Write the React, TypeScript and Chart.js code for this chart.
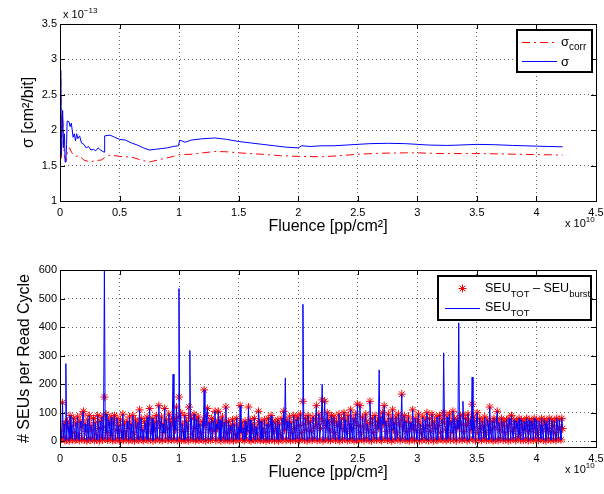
import React, { useEffect, useRef } from "react";
import { Chart, registerables } from "chart.js";

Chart.register(...registerables);

// ---------- data: top panel (cross-section in 1e-13 cm^2/bit vs fluence in 1e10 pp/cm^2) ----------
const sigmaFluence = [
  0, 0.006, 0.012, 0.022, 0.03, 0.037, 0.043, 0.05, 0.055, 0.06, 0.075, 0.085, 0.095, 0.11, 0.12, 0.13,
  0.14, 0.15, 0.165, 0.18, 0.2, 0.22, 0.24, 0.26, 0.28, 0.3, 0.32, 0.34, 0.37, 0.375, 0.42, 0.46, 0.5,
  0.55, 0.6, 0.65, 0.7, 0.75, 0.8, 0.85, 0.9, 0.95, 0.995, 1.005, 1.05, 1.1, 1.2, 1.3, 1.4, 1.5, 1.6,
  1.7, 1.8, 1.9, 2.0, 2.03, 2.1, 2.2, 2.3, 2.4, 2.5, 2.6, 2.75, 2.9, 3.0, 3.1, 3.25, 3.35, 3.5, 3.65,
  3.8, 4.0, 4.1, 4.22,
];
const sigmaValues = [
  1.9, 2.85, 1.65, 2.28, 1.75, 1.95, 1.55, 1.6, 1.8, 2.13, 2.12, 2.05, 2.1, 1.9, 1.95, 1.85,
  1.95, 1.88, 1.92, 1.82, 1.8, 1.75, 1.77, 1.72, 1.73, 1.71, 1.75, 1.72, 1.69, 1.92, 1.93, 1.9, 1.87,
  1.86, 1.82, 1.79, 1.75, 1.72, 1.73, 1.74, 1.75, 1.77, 1.78, 1.86, 1.83, 1.86, 1.88, 1.89, 1.87, 1.84, 1.82,
  1.8, 1.78, 1.76, 1.75, 1.78, 1.77, 1.78, 1.78, 1.79, 1.8, 1.81, 1.815, 1.81, 1.8, 1.79, 1.785, 1.79, 1.8, 1.795,
  1.785, 1.775, 1.77, 1.765,
];
const sigmaCorrFluence = [
  0, 0.006, 0.012, 0.022, 0.035, 0.05, 0.065, 0.08, 0.1, 0.13, 0.16, 0.2, 0.25, 0.3, 0.35, 0.38, 0.42,
  0.5, 0.6, 0.7, 0.75, 0.85, 0.95, 1.0, 1.1, 1.2, 1.3, 1.4, 1.5, 1.7, 1.85, 2.0, 2.2, 2.35, 2.5, 2.7,
  2.9, 3.0, 3.2, 3.5, 3.7, 4.0, 4.22,
];
const sigmaCorrValues = [
  1.85, 2.8, 1.6, 2.2, 1.65, 1.57, 1.72, 1.75, 1.68, 1.63, 1.64, 1.58, 1.55, 1.57, 1.58, 1.62, 1.65,
  1.63, 1.62, 1.57, 1.55, 1.59, 1.63, 1.655, 1.66, 1.68, 1.7, 1.695, 1.68, 1.66, 1.64, 1.63, 1.625, 1.64, 1.66, 1.675,
  1.68, 1.68, 1.67, 1.67, 1.665, 1.655, 1.65,
];

// ---------- data: bottom panel (SEUs per read cycle) ----------
const fluencePerReadCycle = 0.007033; // 1e10 pp/cm^2 accumulated per read cycle
const seuTot = [
  25, 40, 8, 135, 12, 60, 3, 272, 5, 70, 45, 2, 90, 10, 55, 6, 80, 30, 4, 65,
  8, 85, 20, 3, 70, 50, 7, 95, 105, 5, 60, 35, 2, 75, 10, 90, 4, 55, 40, 9,
  80, 3, 65, 25, 6, 90, 45, 2, 70, 12, 85, 5, 50, 612, 8, 95, 30, 4, 75, 60,
  7, 85, 20, 3, 65, 90, 5, 40, 80, 10, 55, 2, 75, 35, 8, 95, 4, 60, 25, 6,
  70, 45, 3, 85, 10, 60, 5, 90, 30, 2, 75, 50, 8, 65, 4, 110, 12, 80, 6, 40,
  3, 70, 55, 9, 85, 4, 60, 115, 7, 35, 80, 2, 65, 45, 6, 90, 10, 70, 125, 5,
  55, 85, 3, 60, 30, 115, 8, 75, 45, 4, 95, 12, 65, 5, 80, 235, 6, 70, 40, 120,
  3, 85, 535, 10, 100, 5, 60, 35, 4, 90, 7, 70, 50, 2, 120, 318, 8, 80, 25, 6,
  95, 45, 3, 75, 10, 85, 4, 60, 30, 8, 70, 5, 180, 55, 2, 90, 115, 6, 65, 40,
  4, 80, 9, 70, 35, 105, 3, 60, 45, 105, 7, 75, 2, 55, 85, 10, 65, 4, 120, 30,
  6, 70, 3, 55, 40, 8, 75, 2, 60, 25, 5, 80, 10, 50, 4, 125, 30, 65, 7, 45,
  3, 70, 8, 55, 35, 120, 5, 75, 2, 60, 40, 9, 80, 4, 50, 25, 6, 105, 65, 3,
  70, 10, 45, 5, 75, 30, 2, 60, 8, 80, 4, 55, 90, 6, 70, 35, 3, 65, 45, 7,
  75, 2, 60, 25, 9, 80, 5, 105, 40, 222, 4, 70, 50, 8, 85, 3, 65, 30, 6, 90,
  45, 4, 75, 10, 85, 55, 3, 95, 30, 7, 480, 60, 5, 80, 40, 2, 90, 65, 8, 70,
  35, 4, 85, 50, 9, 75, 125, 3, 60, 95, 6, 45, 80, 200, 2, 70, 140, 8, 55, 100,
  5, 75, 40, 3, 90, 65, 10, 85, 30, 4, 70, 55, 7, 95, 2, 60, 80, 6, 45, 100,
  8, 75, 35, 3, 90, 60, 5, 110, 45, 9, 80, 2, 70, 95, 4, 130, 55, 6, 125, 30,
  7, 85, 50, 3, 75, 95, 10, 60, 40, 4, 140, 65, 2, 80, 30, 8, 90, 55, 5, 70,
  45, 250, 6, 85, 3, 100, 60, 125, 9, 70, 35, 4, 95, 55, 7, 80, 2, 110, 40, 65,
  5, 85, 30, 10, 95, 60, 3, 75, 165, 8, 50, 90, 4, 70, 35, 6, 85, 2, 65, 45,
  9, 110, 55, 3, 80, 40, 7, 70, 95, 2, 60, 30, 5, 85, 45, 10, 75, 4, 100, 55,
  3, 80, 35, 8, 95, 60, 2, 70, 45, 6, 85, 4, 55, 90, 30, 9, 75, 5, 310, 65,
  40, 3, 85, 10, 60, 95, 5, 70, 30, 105, 7, 80, 50, 2, 75, 45, 415, 8, 90, 60,
  4, 140, 35, 9, 80, 55, 3, 95, 65, 6, 75, 40, 225, 10, 85, 50, 2, 70, 100, 30,
  7, 80, 45, 3, 70, 55, 9, 85, 30, 4, 75, 60, 5, 120, 40, 8, 70, 2, 80, 50,
  6, 75, 105, 3, 65, 40, 9, 80, 55, 4, 70, 30, 7, 75, 50, 2, 80, 60, 5, 90,
  35, 8, 75, 45, 3, 70, 60, 10, 80, 25, 5, 75, 50, 4, 70, 40, 9, 80, 55, 2,
  75, 35, 7, 70, 60, 4, 80, 45, 10, 75, 30, 3, 70, 55, 8, 80, 40, 5, 75, 60,
  2, 70, 45, 9, 80, 35, 4, 75, 55, 7, 70, 30, 3, 80, 50, 10, 75, 40, 5, 80,
  45,
];
const burstCycles = [7, 53, 135, 142, 155, 269, 290, 313, 381, 458, 476, 481, 492];
const burstSizes = [210, 457, 180, 380, 228, 152, 340, 55, 185, 210, 355, 50, 95];

// ---------- ticks ----------
const fluenceTicks = [0, 0.5, 1, 1.5, 2, 2.5, 3, 3.5, 4, 4.5];
const sigmaTicks = [1, 1.5, 2, 2.5, 3, 3.5];
const seuTicks = [0, 100, 200, 300, 400, 500, 600];

const FONT = "'Liberation Sans', Arial, Helvetica, sans-serif";
const RED = "rgb(255,0,0)";
const BLUE = "rgb(0,0,255)";
const DASHDOT = [8, 4, 2, 4];

type Part = [string, number, number];

function drawRich(ctx: CanvasRenderingContext2D, x: number, y: number, parts: Part[]) {
  ctx.textAlign = "left";
  ctx.textBaseline = "alphabetic";
  for (const [t, size, dy] of parts) {
    ctx.font = `${size}px ${FONT}`;
    ctx.fillText(t, x, y + dy);
    x += ctx.measureText(t).width;
  }
}

function drawStar(ctx: CanvasRenderingContext2D, x: number, y: number, r: number) {
  ctx.beginPath();
  ctx.moveTo(x - r, y);
  ctx.lineTo(x + r, y);
  ctx.moveTo(x, y - r);
  ctx.lineTo(x, y + r);
  const d = r * Math.SQRT1_2;
  ctx.moveTo(x - d, y - d);
  ctx.lineTo(x + d, y + d);
  ctx.moveTo(x - d, y + d);
  ctx.lineTo(x + d, y - d);
  ctx.stroke();
}

interface DecorOpts {
  yTitle: string;
  yTitleX: number;
  yExp?: Part[];
  legend: (ctx: CanvasRenderingContext2D) => void;
  xTickVals: number[];
  yTickVals: number[];
}

function decorPlugin(o: DecorOpts) {
  return {
    id: "decor",
    afterDraw(chart: any) {
      const { ctx, chartArea: a, scales } = chart;
      ctx.save();
      ctx.fillStyle = "#000";
      ctx.strokeStyle = "#000";
      ctx.lineWidth = 1;
      ctx.setLineDash([]);
      ctx.strokeRect(a.left + 0.5, a.top + 0.5, a.right - a.left, a.bottom - a.top);
      const TL = 5;
      ctx.beginPath();
      for (const v of o.xTickVals) {
        const px = Math.round(scales.x.getPixelForValue(v)) + 0.5;
        ctx.moveTo(px, a.bottom);
        ctx.lineTo(px, a.bottom - TL);
        ctx.moveTo(px, a.top);
        ctx.lineTo(px, a.top + TL);
      }
      for (const v of o.yTickVals) {
        const py = Math.round(scales.y.getPixelForValue(v)) + 0.5;
        ctx.moveTo(a.left, py);
        ctx.lineTo(a.left + TL, py);
        ctx.moveTo(a.right, py);
        ctx.lineTo(a.right - TL, py);
      }
      ctx.stroke();
      ctx.save();
      ctx.translate(o.yTitleX, (a.top + a.bottom) / 2);
      ctx.rotate(-Math.PI / 2);
      ctx.font = `16px ${FONT}`;
      ctx.textAlign = "center";
      ctx.textBaseline = "alphabetic";
      ctx.fillText(o.yTitle, 0, 0);
      ctx.restore();
      ctx.font = `16px ${FONT}`;
      ctx.textAlign = "center";
      ctx.textBaseline = "alphabetic";
      ctx.fillText("Fluence [pp/cm\u00B2]", (a.left + a.right) / 2, 231);
      drawRich(ctx, 565, 226.5, [["x 10", 11, 0], ["10", 8, -5]]);
      if (o.yExp) drawRich(ctx, 63, 17.5, o.yExp);
      o.legend(ctx);
      ctx.restore();
    },
  };
}

function scalesConfig(yMin: number, yMax: number, yTickVals: number[]) {
  const tickFont = { family: FONT, size: 11 };
  const grid = { color: "rgba(0,0,0,0.6)", lineWidth: 1, drawTicks: false };
  const border = { display: false, dash: [1, 3] };
  return {
    x: {
      type: "linear" as const,
      min: 0,
      max: 4.5,
      afterBuildTicks: (s: any) => {
        s.ticks = fluenceTicks.map((v) => ({ value: v }));
      },
      afterFit: (s: any) => {
        s.height = 46;
        s.paddingLeft = 0;
        s.paddingRight = 0;
      },
      ticks: {
        font: tickFont,
        color: "#000",
        padding: 5,
        maxRotation: 0,
        autoSkip: false,
        callback: (v: any) => String(v),
      },
      grid,
      border,
    },
    y: {
      type: "linear" as const,
      min: yMin,
      max: yMax,
      afterBuildTicks: (s: any) => {
        s.ticks = yTickVals.map((v) => ({ value: v }));
      },
      afterFit: (s: any) => {
        s.width = 60;
        s.paddingTop = 0;
        s.paddingBottom = 0;
      },
      ticks: {
        font: tickFont,
        color: "#000",
        padding: 3,
        autoSkip: false,
        callback: (v: any) => String(v),
      },
      grid,
      border,
    },
  };
}

function topConfig(): any {
  const sigma = sigmaFluence.map((x, i) => ({ x, y: sigmaValues[i] }));
  const sigmaCorr = sigmaCorrFluence.map((x, i) => ({ x, y: sigmaCorrValues[i] }));
  return {
    type: "line",
    data: {
      datasets: [
        {
          label: "σcorr",
          data: sigmaCorr,
          borderColor: RED,
          borderWidth: 1,
          borderDash: DASHDOT,
          pointRadius: 0,
          tension: 0,
          order: 1,
        },
        {
          label: "σ",
          data: sigma,
          borderColor: BLUE,
          borderWidth: 1,
          pointRadius: 0,
          tension: 0,
          order: 0,
        },
      ],
    },
    options: {
      animation: false,
      responsive: false,
      devicePixelRatio: 1,
      layout: { padding: { top: 24, right: 8, left: 0, bottom: 0 } },
      plugins: { legend: { display: false }, tooltip: { enabled: false } },
      scales: scalesConfig(1, 3.5, sigmaTicks),
    },
    plugins: [
      decorPlugin({
        yTitle: "σ [cm\u00B2/bit]",
        yTitleX: 33,
        yExp: [["x 10", 11, 0], ["\u221213", 8, -5]],
        xTickVals: fluenceTicks,
        yTickVals: sigmaTicks,
        legend: (ctx) => {
          ctx.fillStyle = "#fff";
          ctx.fillRect(517, 30, 75, 42);
          ctx.strokeStyle = "#000";
          ctx.lineWidth = 2;
          ctx.strokeRect(517, 30, 75, 42);
          ctx.lineWidth = 1;
          ctx.strokeStyle = RED;
          ctx.setLineDash(DASHDOT);
          ctx.beginPath();
          ctx.moveTo(522, 42.5);
          ctx.lineTo(557, 42.5);
          ctx.stroke();
          ctx.setLineDash([]);
          ctx.strokeStyle = BLUE;
          ctx.beginPath();
          ctx.moveTo(522, 61.5);
          ctx.lineTo(557, 61.5);
          ctx.stroke();
          ctx.fillStyle = "#000";
          drawRich(ctx, 561, 45.5, [["σ", 13, 0], ["corr", 10, 4.5]]);
          drawRich(ctx, 561, 65.5, [["σ", 13, 0]]);
        },
      }),
    ],
  };
}

function bottomConfig(): any {
  const burst = seuTot.map(() => 0);
  burstCycles.forEach((c, i) => {
    burst[c] = burstSizes[i];
  });
  const fluence = seuTot.map((_, i) => i * fluencePerReadCycle);
  const tot = seuTot.map((y, i) => ({ x: fluence[i], y }));
  const corr = seuTot.map((y, i) => ({ x: fluence[i], y: y - burst[i] }));
  return {
    type: "line",
    data: {
      datasets: [
        {
          label: "SEU_TOT - SEU_burst",
          data: corr,
          showLine: false,
          pointStyle: "star",
          pointRadius: 4,
          pointBorderColor: RED,
          pointBackgroundColor: RED,
          pointBorderWidth: 1,
          borderColor: RED,
          order: 1,
        },
        {
          label: "SEU_TOT",
          data: tot,
          borderColor: BLUE,
          borderWidth: 1,
          pointRadius: 0,
          tension: 0,
          order: 0,
        },
      ],
    },
    options: {
      animation: false,
      responsive: false,
      devicePixelRatio: 1,
      layout: { padding: { top: 24, right: 8, left: 0, bottom: 0 } },
      plugins: { legend: { display: false }, tooltip: { enabled: false } },
      scales: scalesConfig(-20, 600, seuTicks),
    },
    plugins: [
      decorPlugin({
        yTitle: "# SEUs per Read Cycle",
        yTitleX: 28.5,
        xTickVals: fluenceTicks,
        yTickVals: seuTicks,
        legend: (ctx) => {
          ctx.fillStyle = "#fff";
          ctx.fillRect(438, 30, 153, 44);
          ctx.strokeStyle = "#000";
          ctx.lineWidth = 2;
          ctx.strokeRect(438, 30, 153, 44);
          ctx.lineWidth = 1;
          ctx.strokeStyle = RED;
          drawStar(ctx, 462.5, 42.5, 4);
          ctx.strokeStyle = BLUE;
          ctx.beginPath();
          ctx.moveTo(445, 62.5);
          ctx.lineTo(480, 62.5);
          ctx.stroke();
          ctx.fillStyle = "#000";
          drawRich(ctx, 485, 45.5, [
            ["SEU", 12.5, 0],
            ["TOT", 9.5, 5],
            [" \u2013 SEU", 12.5, 0],
            ["burst", 9.5, 5],
          ]);
          drawRich(ctx, 485, 64.5, [
            ["SEU", 12.5, 0],
            ["TOT", 9.5, 5],
          ]);
        },
      }),
    ],
  };
}

export default function App() {
  const topRef = useRef<HTMLCanvasElement>(null);
  const botRef = useRef<HTMLCanvasElement>(null);
  useEffect(() => {
    const c1 = new Chart(topRef.current as HTMLCanvasElement, topConfig());
    const c2 = new Chart(botRef.current as HTMLCanvasElement, bottomConfig());
    return () => {
      c1.destroy();
      c2.destroy();
    };
  }, []);
  return (
    <div style={{ position: "fixed", left: 0, top: 0, width: 604, height: 494, background: "#fff" }}>
      <canvas
        ref={topRef}
        width={604}
        height={247}
        style={{ position: "absolute", left: 0, top: 0, width: 604, height: 247 }}
      />
      <canvas
        ref={botRef}
        width={604}
        height={247}
        style={{ position: "absolute", left: 0, top: 246, width: 604, height: 247 }}
      />
    </div>
  );
}
